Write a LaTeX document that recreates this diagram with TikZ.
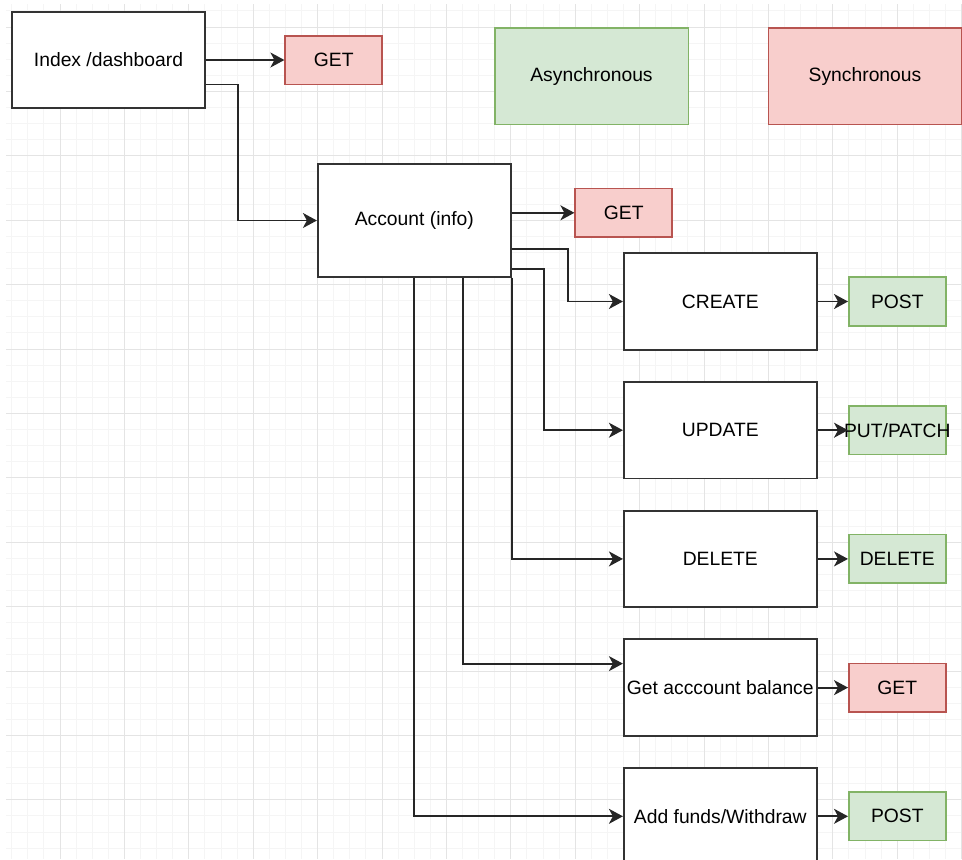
\documentclass[tikz,border=0pt]{standalone}
\usepackage{fontspec}
\setmainfont{Liberation Sans}
\usetikzlibrary{arrows.meta}
\definecolor{syncfill}{HTML}{F8CECC}
\definecolor{syncline}{HTML}{B85450}
\definecolor{asyncfill}{HTML}{D5E8D4}
\definecolor{asyncline}{HTML}{82B366}
\definecolor{gridmajor}{HTML}{E4E4E4}
\definecolor{gridminor}{HTML}{F5F5F5}
\tikzset{
  page/.style={draw=black!80,line width=0.9pt,fill=white,minimum width=96.5pt,minimum height=48.3pt,inner sep=1pt},
  method/.style={line width=0.8pt,minimum width=48.5pt,minimum height=24.3pt,inner sep=0pt},
  syncbox/.style={method,draw=syncline,fill=syncfill},
  asyncbox/.style={method,draw=asyncline,fill=asyncfill},
  call/.style={draw=black!85,line width=0.9pt,-{Stealth[length=7pt,width=7.5pt,inset=2pt]}}
}

\begin{document}
\begin{tikzpicture}[x=0.5pt,y=-0.5pt,font=\fontsize{9.65}{11.6}\selectfont]
\useasboundingbox (0,0) rectangle (962,859);
\clip (0,0) rectangle (962,859);

%% grid
\foreach \i in {0,...,59}
  \draw[gridminor,line width=0.5pt] (11.7+16.1*\i,4) -- (11.7+16.1*\i,859);
\foreach \j in {0,...,52}
  \draw[gridminor,line width=0.5pt] (6,10.9+16.1*\j) -- (962,10.9+16.1*\j);
\foreach \i in {0,...,14}
  \draw[gridmajor,line width=0.5pt] (60+64.4*\i,4) -- (60+64.4*\i,859);
\foreach \j in {0,...,12}
  \draw[gridmajor,line width=0.5pt] (6,27+64.4*\j) -- (962,27+64.4*\j);

%% legend
\node[asyncbox,minimum width=96.8pt,minimum height=48.3pt] (async) at (591.5,76) {Asynchronous};
\node[syncbox,minimum width=96.5pt,minimum height=48.3pt] (sync) at (865,76) {Synchronous};

%% pages
\node[page] (idx) at (108.5,60) {Index /dashboard};
\node[syncbox] (getidx) at (333.7,60) {GET};
\node[page,minimum height=56.2pt] (acct) at (414.3,220.5) {Account (info)};
\node[syncbox] (getacct) at (623.7,212.8) {GET};
\foreach \nm/\txt/\yy/\req/\kind in {create/CREATE/301.5/POST/asyncbox,
    update/UPDATE/430.2/{PUT/PATCH}/asyncbox, delete/DELETE/558.9/DELETE/asyncbox,
    balance/{Get acccount balance}/687.6/GET/syncbox, funds/{Add funds/Withdraw}/816.3/POST/asyncbox}
{
  \node[page] (\nm) at (720.3,\yy) {\txt};
  \node[\kind] (\nm-req) at (897.3,\yy) {\makebox[0pt]{\req}};
  \draw[call] (\nm) -- (\nm-req);
}

%% calls
\draw[call] (idx) -- (getidx);
\draw[call] ([yshift=-12.2pt]idx.east) -- ++(32,0) |- (acct);
\draw[call] (acct.east |- getacct) -- (getacct);
\draw[call] ([yshift=-14.4pt]acct.east) -- ++(56.3,0) |- (create);
\draw[call] ([yshift=-24.2pt]acct.east) -- ++(32.3,0) |- (update);
\draw[call] (acct.south east) |- (delete);
\draw[call] ([xshift=24.2pt]acct.south) |- ([yshift=12pt]balance.west);
\draw[call] (acct.south) |- (funds);
\end{tikzpicture}
\end{document}
